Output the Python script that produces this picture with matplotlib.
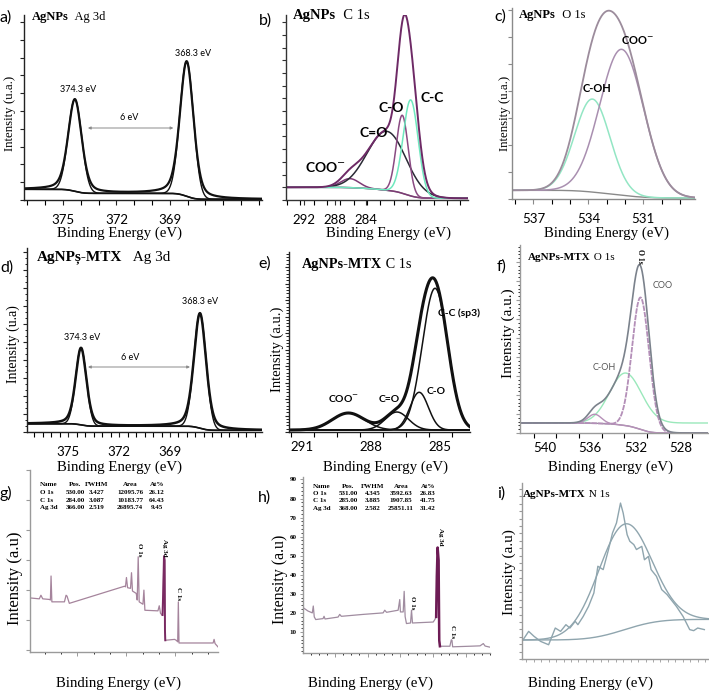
import numpy as np
import matplotlib
matplotlib.use('Agg')
import matplotlib.pyplot as plt
from matplotlib.ticker import MultipleLocator, FixedLocator, NullFormatter

W, H = 709, 693
SERIF = 'Liberation Serif'
SANS = 'Lato'

# ---------------- data ----------------
# a) AgNPs Ag 3d
a_centers = [374.33, 368.05]
a_heights = [92, 135]
a_fwhm = [0.9, 0.9]
a_bg = [10.7, 0.7]
a_ticks = [375, 372, 369]
a_labels = ['374.3 eV', '368.3 eV']

# b) AgNPs C 1s
b_names = ['COO$^{-}$', 'C=O', 'C-O', 'C-C']
b_centers = [286.06, 281.33, 279.32, 278.23]
b_heights = [9, 59, 78, 96]
b_fwhm = [2.8, 5.9, 1.8, 2.28]
b_bg = [12.7, 1.7]
b_ticks = [292, 288, 284]

# c) AgNPs O 1s
c_names = ['C-OH', 'COO$^{-}$']
c_centers = [533.78, 532.18]
c_heights = [93, 146]
c_fwhm = [2.27, 2.82]
c_bg = [8.7, 1.0]
c_ticks = [537, 534, 531]

# d) AgNPs-MTX Ag 3d
d_centers = [374.25, 367.23]
d_heights = [77, 115]
d_fwhm = [0.75, 0.85]
d_bg = [8.3, 1.7]
d_ticks = [375, 372, 369]
d_labels = ['374.3 eV', '368.3 eV']

# e) AgNPs-MTX C 1s
e_names = ['COO$^{-}$', 'C=O', 'C-O', 'C-C (sp3)']
e_centers = [288.99, 286.88, 285.91, 285.22]
e_heights = [17, 18, 37.7, 141.7]
e_fwhm = [1.65, 1.18, 0.94, 1.30]
e_bg = [2.0, 2.0]
e_ticks = [291, 288, 285]

# f) AgNPs-MTX O 1s
f_names = ['', 'C-OH', 'COO']
f_centers = [535.6, 532.9, 531.55]
f_heights = [9, 50, 132]
f_fwhm = [1.4, 3.3, 1.77]
f_bg = [10.0, 0.0]
f_ticks = [540, 536, 532, 528]

# g) AgNPs survey
g_energy = [1190, 1134, 1124, 1113, 1072, 1066, 1062, 1057, 980, 970, 964, 950,
            612, 606, 600, 593, 575, 569, 563, 540, 534, 528, 522, 499, 493, 487,
            407, 399, 391, 379, 375, 370, 366, 364, 362, 305, 295, 286, 282, 278,
            69, 63, 57, 39]
g_counts = [17.4, 17.1, 18.3, 17.1, 16.9, 16.7, 24.7, 16.1, 16.1, 18.3, 18.0, 15.6,
            21.3, 21.1, 24.2, 20.8, 20.6, 25.8, 19.7, 18.9, 16.7, 31.1, 16.1, 15.3, 20.0, 13.3,
            13.1, 14.8, 12.2, 11.7, 18.9, 31.3, 30.0, 6.7, 3.3, 3.6, 3.3, 2.8, 16.1, 2.4,
            2.4, 3.6, 2.2, 1.1]
g_table = [['Name', 'Pos.', 'FWHM', 'Area', 'At%'],
           ['O 1s', '530.00', '3.427', '12095.76', '26.12'],
           ['C 1s', '284.00', '3.087', '10183.77', '64.43'],
           ['Ag 3d', '366.00', '2.519', '26895.74', '9.45']]

# h) AgNPs-MTX survey
h_energy = [1196, 1166, 1139, 1133, 1127, 1118, 1073, 1067, 1061, 981, 971, 961,
            828, 705, 695, 684, 613, 603, 599, 582, 576, 570, 562, 537, 531, 525,
            398, 388, 380, 376, 371, 365, 361, 357, 296, 287, 283, 279, 173, 111, 91, 80, 50]
h_counts = [22.8, 21.0, 20.0, 23.6, 17.9, 16.5, 17.0, 18.2, 16.8, 17.8, 19.2, 18.2,
            19.2, 20.0, 21.4, 20.3, 21.4, 27.0, 20.5, 20.5, 31.3, 18.0, 14.4, 14.7, 21.4, 14.7,
            15.2, 16.5, 17.9, 39.0, 54.3, 47.6, 5.6, 2.5, 2.5, 5.9, 5.6, 2.2, 2.5, 2.7, 3.9, 2.6, 2.0]
h_yticks = [10, 20, 30, 40, 50, 60, 70, 80, 90]
h_table = [['Name', 'Pos.', 'FWHM', 'Area', 'At%'],
           ['O 1s', '531.00', '4.345', '3592.63', '26.83'],
           ['C 1s', '285.00', '3.885', '1907.85', '41.75'],
           ['Ag 3d', '368.00', '2.582', '25851.11', '31.42']]

# i) AgNPs-MTX N 1s
i_energy = [408.0, 407.5, 407.1, 406.6, 406.0, 405.5, 405.1, 404.7, 404.4, 404.0, 403.8,
            403.4, 403.0, 402.6, 402.3, 401.9, 401.5, 401.2, 400.9, 400.6, 400.4, 400.1,
            399.9, 399.6, 399.4, 399.0, 398.8, 398.5, 398.3, 397.9, 397.5, 397.1, 396.4,
            395.9, 395.4, 395.1, 394.8, 394.3]
i_counts = [10.0, 15.7, 12.9, 10.0, 8.1, 17.6, 15.7, 19.5, 17.6, 21.4, 19.5,
            24.2, 29.9, 37.5, 52.7, 50.8, 62.2, 71.6, 77.3, 88.6, 83.0, 70.6,
            66.9, 65.0, 62.2, 64.0, 56.4, 58.3, 50.8, 47.0, 39.4, 36.6, 29.9,
            24.2, 16.7, 16.1, 17.6, 16.7]
i_center, i_height, i_fwhm = 400.3, 60.0, 4.7
i_bg = [10.8, 22.5]


# ---------------- helpers ----------------
def pv(E, c, h, fwhm, eta=0.0):
    s = fwhm / 2.3548
    g = np.exp(-0.5 * ((E - c) / s) ** 2)
    lor = 1.0 / (1.0 + ((E - c) / (fwhm / 2.0)) ** 2)
    return h * ((1 - eta) * g + eta * lor)


def step_bg(E, peaks, hi, lo):
    idx = np.argsort(E)
    Es, ps = E[idx], peaks[idx]
    cum = np.concatenate([[0.0], np.cumsum(0.5 * (ps[1:] + ps[:-1]) * np.diff(Es))])
    frac = cum / cum[-1]
    out = np.empty_like(E)
    out[idx] = lo + (hi - lo) * frac
    return out


fig = plt.figure(figsize=(W / 100, H / 100), dpi=100)
fig.patch.set_facecolor('white')


def px_axes(l, t, r, b, spine='#222222'):
    ax = fig.add_axes([l / W, 1 - b / H, (r - l) / W, (b - t) / H])
    ax.set_facecolor('none')
    for s in ('top', 'right'):
        ax.spines[s].set_visible(False)
    for s in ('left', 'bottom'):
        ax.spines[s].set_color(spine)
        ax.spines[s].set_linewidth(1.0)
    ax.tick_params(colors=spine, labelcolor='black')
    return ax


def ftext(x, y, s, **kw):
    kw.setdefault('va', 'center')
    return fig.text(x / W, 1 - y / H, s, **kw)


def title(ax, x, y, bold, rest, size):
    t = ftext(x, y, bold, family=SERIF, weight='bold', fontsize=size, ha='left', va='bottom')
    ax.annotate(rest, xy=(1, 0), xycoords=t, va='bottom', ha='left',
                family=SERIF, fontsize=size, annotation_clip=False)


def std_xticks(ax, ticks, minor, labelsize=9.5, major_len=3.5):
    ax.xaxis.set_major_locator(FixedLocator(ticks))
    ax.xaxis.set_minor_locator(minor)
    ax.tick_params(axis='x', which='major', length=major_len, width=0.8, pad=6.5,
                   labelsize=labelsize)
    ax.tick_params(axis='x', which='minor', length=3.5, width=0.8)
    for lab in ax.get_xticklabels():
        lab.set_family(SANS)


def plain_y(ax, step, length=3.0, minor=None, minor_len=1.5):
    ax.yaxis.set_major_locator(MultipleLocator(step))
    ax.yaxis.set_major_formatter(NullFormatter())
    ax.tick_params(axis='y', which='major', length=length, width=0.8)
    if minor is not None:
        ax.yaxis.set_minor_locator(MultipleLocator(minor))
        ax.tick_params(axis='y', which='minor', length=minor_len, width=0.6)


XL = dict(family=SERIF, fontsize=10.7, ha='center')
YL = dict(family=SERIF, rotation=90, ha='center')
PL = dict(family=SANS, fontsize=11.5, ha='left')

# ---------------- a ----------------
ax = px_axes(24, 15, 262, 200)
E = np.linspace(377.19, 363.82, 1500)
comps = [pv(E, c, h, w, 0.0) for c, h, w in zip(a_centers, a_heights, a_fwhm)]
env = sum(pv(E, c, h, w, 0.35) for c, h, w in zip(a_centers, a_heights, a_fwhm))
bg = step_bg(E, sum(comps), a_bg[0], a_bg[1])
ax.plot(E, bg, color='#111', lw=1.2)
for cp in comps:
    ax.plot(E, bg + cp, color='#111', lw=1.0)
ax.plot(E, bg + env, color='#111', lw=1.6)
ax.set_xlim(377.19, 363.82)
ax.set_ylim(0, 185)
std_xticks(ax, a_ticks, MultipleLocator(1))
plain_y(ax, 17.8)
ax.text(374.16, 110, a_labels[0], family=SANS, fontsize=6.5, ha='center', va='center')
ax.text(367.7, 147, a_labels[1], family=SANS, fontsize=6.5, ha='center', va='center')
ax.text(371.3, 83, '6 eV', family=SANS, fontsize=6.5, ha='center', va='center')
ax.annotate('', xy=(368.8, 72), xytext=(373.6, 72),
            arrowprops=dict(arrowstyle='<|-|>', color='#8a8a8a', lw=0.7,
                            mutation_scale=4, shrinkA=0, shrinkB=0))
ftext(0, 18, 'a)', **PL)
title(ax, 32, 23, 'AgNPs', '  Ag 3d', 9)
ftext(10.5, 113, 'Intensity (u.a.)', fontsize=9.3, **YL)
ftext(120, 233, 'Binding Energy (eV)', **XL)

# ---------------- b ----------------
ax = px_axes(286, 15, 468, 200, spine='#333333')
E = np.linspace(294.32, 270.84, 1500)
comps = [pv(E, c, h, w) for c, h, w in zip(b_centers, b_heights, b_fwhm)]
bg = step_bg(E, sum(comps), b_bg[0], b_bg[1])
ax.plot(E, bg, color='#7a7a7a', lw=1.0)
b_cols = ['#7d3a75', '#2a2a35', '#8a4a82', '#6fe8bf']
for cp, col in zip(comps, b_cols):
    ax.plot(E, bg + cp, color=col, lw=1.1)
ax.plot(E, bg + sum(comps), color='#6e2a66', lw=1.4)
ax.set_xlim(294.32, 270.84)
ax.set_ylim(0, 185)
std_xticks(ax, b_ticks, FixedLocator(np.arange(294.2, 270.8, -1.72)))
plain_y(ax, 12.7)
BL = dict(family=SANS, fontsize=10, weight='bold', ha='center', va='center')
ax.text(289.2, 33, b_names[0], **BL)
ax.text(283.0, 67, b_names[1], **BL)
ax.text(280.8, 92, b_names[2], **BL)
ax.text(275.5, 102, b_names[3], **BL)
ftext(259, 21, 'b)', **PL)
title(ax, 293, 22, 'AgNPs', '  C 1s', 10.5)
ftext(388, 233, 'Binding Energy (eV)', **XL)

# ---------------- c ----------------
ax = px_axes(512, 8, 695, 199, spine='#8a8a8a')
E = np.linspace(538.17, 528.18, 1500)
comps = [pv(E, c, h, w) for c, h, w in zip(c_centers, c_heights, c_fwhm)]
bg = step_bg(E, sum(comps), c_bg[0], c_bg[1])
ax.plot(E, bg, color='#8a8a8a', lw=1.0)
ax.plot(E, bg + comps[0], color='#93e6c4', lw=1.1)
ax.plot(E, bg + comps[1], color='#a98fb0', lw=1.1)
ax.plot(E, bg + sum(comps), color='#9c8c9c', lw=1.3)
ax.set_xlim(538.17, 528.18)
ax.set_ylim(0, 191)
std_xticks(ax, c_ticks, MultipleLocator(1))
plain_y(ax, 27)
CL = dict(family=SANS, fontsize=8, weight='bold', ha='center', va='center')
ax.text(533.52, 111, c_names[0], **CL)
ax.text(531.34, 159, c_names[1], **CL)
ftext(494, 17, 'c)', **PL)
title(ax, 519, 21, 'AgNPs', '  O 1s', 9)
ftext(505, 113, 'Intensity (u.a.)', fontsize=9.3, **YL)
ftext(607, 233, 'Binding Energy (eV)', **XL)

# ---------------- d ----------------
ax = px_axes(27, 248, 262, 432)
E = np.linspace(377.44, 363.57, 1500)
comps = [pv(E, c, h, w, 0.0) for c, h, w in zip(d_centers, d_heights, d_fwhm)]
env = sum(pv(E, c, h, w, 0.35) for c, h, w in zip(d_centers, d_heights, d_fwhm))
bg = step_bg(E, sum(comps), d_bg[0], d_bg[1])
ax.plot(E, bg, color='#111', lw=1.2)
for cp in comps:
    ax.plot(E, bg + cp, color='#111', lw=1.0)
ax.plot(E, bg + env, color='#111', lw=1.8)
ax.set_xlim(377.44, 363.57)
ax.set_ylim(0, 184)
std_xticks(ax, d_ticks, MultipleLocator(0.5))
plain_y(ax, 18, minor=6)
ax.text(374.19, 94, d_labels[0], family=SANS, fontsize=6.5, ha='center', va='center')
ax.text(367.2, 130, d_labels[1], family=SANS, fontsize=6.5, ha='center', va='center')
ax.text(371.35, 75, '6 eV', family=SANS, fontsize=6.5, ha='center', va='center')
ax.annotate('', xy=(367.82, 65), xytext=(373.84, 65),
            arrowprops=dict(arrowstyle='<|-|>', color='#8a8a8a', lw=0.7,
                            mutation_scale=4, shrinkA=0, shrinkB=0))
ftext(0, 268, 'd)', **PL)
title(ax, 37, 264, 'AgNP\u0219-MTX', '   Ag 3d', 11)
ftext(13, 344, 'Intensity (u.a)', fontsize=10, **YL)
ftext(120, 467, 'Binding Energy (eV)', **XL)

# ---------------- e ----------------
ax = px_axes(289, 252, 470, 432)
E = np.linspace(291.57, 283.70, 1500)
comps = [pv(E, c, h, w) for c, h, w in zip(e_centers, e_heights, e_fwhm)]
bg = np.full_like(E, e_bg[0])
ax.plot(E, bg, color='#111', lw=1.0)
for cp in comps:
    ax.plot(E, bg + cp, color='#111', lw=1.1)
ax.plot(E, bg + sum(comps), color='#111', lw=2.2)
ax.set_xlim(291.57, 283.70)
ax.set_ylim(0, 180)
std_xticks(ax, e_ticks, FixedLocator(np.arange(291.5, 283.7, -1.0)), major_len=0)
plain_y(ax, 16.5, minor=3.3, minor_len=2)
EL = dict(family=SANS, fontsize=7.5, weight='bold', va='center')
ax.text(289.2, 33, e_names[0], ha='center', **EL)
ax.text(287.2, 32, e_names[1], ha='center', **EL)
ax.text(285.6, 40, e_names[2], ha='left', **EL)
ax.text(285.1, 119, e_names[3], ha='left', **EL)
ftext(258, 264, 'e)', **PL)
title(ax, 302, 271, 'AgNPs-MTX', ' C 1s', 10.3)
ftext(277, 349, 'Intensity (a.u.)', fontsize=10.5, **YL)
ftext(385, 467, 'Binding Energy (eV)', **XL)

# ---------------- f ----------------
ax = px_axes(520, 245, 708, 433, spine='#9a9a9a')
E = np.linspace(542.2, 525.6, 1500)
comps = [pv(E, c, h, w) for c, h, w in zip(f_centers, f_heights, f_fwhm)]
bg = step_bg(E, sum(comps), f_bg[0], f_bg[1])
ax.plot(E, bg, color='#9a90a2', lw=1.0)
ax.plot(E, f_bg[0] + comps[1], color='#9ae8bb', lw=1.0)
ax.plot(E, bg + comps[0], color='#b690b8', lw=1.0)
ax.plot(E, bg + comps[2], color='#b48fb8', lw=1.3, ls=(0, (3, 0.6)))
ax.plot(E, bg + sum(comps), color='#7b828c', lw=1.2)
ax.set_xlim(542.2, 525.6)
ax.set_ylim(0, 188)
std_xticks(ax, f_ticks, FixedLocator(np.arange(541, 525, -2.0)), major_len=0)
plain_y(ax, 19, minor=3.8)
FL = dict(family=SANS, fontsize=6.5, color='#555', ha='center', va='center')
ax.text(534.8, 66, f_names[1], **FL)
ax.text(529.6, 148, f_names[2], **FL)
ftext(640, 256, 'O 1s', family=SERIF, weight='bold', fontsize=5.5, rotation=270, ha='center')
ftext(497, 267, 'f)', **PL)
title(ax, 528, 262, 'AgNPs-MTX', ' O 1s', 8)
ftext(508, 333, 'Intensity (a.u.)', fontsize=11, **YL)
ftext(611, 467, 'Binding Energy (eV)', **XL)

# ---------------- g ----------------
ax = px_axes(30, 470, 218, 652, spine='#9a9a9a')
ge = np.array(g_energy, float)
gc = np.array(g_counts, float)
ax.plot(ge, gc, color='#a5849c', lw=0.9)
ag = (ge <= 380) & (ge >= 362)
ax.plot(ge[ag], gc[ag], color='#7a2a62', lw=1.4)
ax.set_xlim(1191, 39)
ax.set_ylim(-0.6, 60)
ax.xaxis.set_major_locator(MultipleLocator(300))
ax.xaxis.set_minor_locator(MultipleLocator(100))
ax.xaxis.set_major_formatter(NullFormatter())
ax.tick_params(axis='x', which='major', length=3, width=0.7)
ax.tick_params(axis='x', which='minor', length=1.5, width=0.6)
plain_y(ax, 10)
TB = dict(family=SERIF, weight='bold', fontsize=5, va='center')
cols_g = [40, 75, 97, 130, 157]
for r, row in enumerate(g_table):
    for cidx, cell in enumerate(row):
        ftext(cols_g[cidx], 485 + 7.5 * r, cell, ha='left' if cidx == 0 else 'center', **TB)
ftext(139.5, 550, 'O 1s', family=SERIF, weight='bold', fontsize=5, rotation=270, ha='center')
ftext(165, 548, 'Ag 3d', family=SERIF, weight='bold', fontsize=5, rotation=270, ha='center')
ftext(178.7, 594, 'C 1s', family=SERIF, weight='bold', fontsize=5, rotation=270, ha='center')
ftext(0, 493, 'g)', **PL)
ftext(15, 578, 'Intensity (a.u)', fontsize=12, **YL)
ftext(119, 683, 'Binding Energy (eV)', **XL)

# ---------------- h ----------------
ax = px_axes(303, 477, 490, 653, spine='#9a9a9a')
he = np.array(h_energy, float)
hc = np.array(h_counts, float)
ax.plot(he, hc, color='#a08ca0', lw=0.9)
ag = (he <= 380) & (he >= 357)
ax.plot(he[ag], hc[ag], color='#6d1c55', lw=1.8)
ax.set_xlim(1196, 50)
ax.set_ylim(-1.05, 91.3)
ax.xaxis.set_major_locator(MultipleLocator(200))
ax.xaxis.set_minor_locator(MultipleLocator(50))
ax.xaxis.set_major_formatter(NullFormatter())
ax.tick_params(axis='x', which='major', length=3, width=0.7)
ax.tick_params(axis='x', which='minor', length=1.5, width=0.6)
ax.yaxis.set_major_locator(FixedLocator(h_yticks))
ax.yaxis.set_minor_locator(MultipleLocator(2))
ax.tick_params(axis='y', which='major', length=2.5, width=0.7, pad=2, labelsize=5)
ax.tick_params(axis='y', which='minor', length=1.2, width=0.5)
for lab in ax.get_yticklabels():
    lab.set_family(SERIF)
    lab.set_weight('bold')
cols_h = [313, 348, 373, 401, 428]
for r, row in enumerate(h_table):
    for cidx, cell in enumerate(row):
        ftext(cols_h[cidx], 486 + 7.5 * r, cell, ha='left' if cidx == 0 else 'center', **TB)
ftext(412.7, 603, 'O 1s', family=SERIF, weight='bold', fontsize=5, rotation=270, ha='center')
ftext(440, 537, 'Ag 3d', family=SERIF, weight='bold', fontsize=5, rotation=270, ha='center')
ftext(452.7, 632, 'C 1s', family=SERIF, weight='bold', fontsize=5, rotation=270, ha='center')
ftext(258, 498, 'h)', **PL)
ftext(280, 579, 'Intensity (a.u)', fontsize=11.5, **YL)
ftext(370, 683, 'Binding Energy (eV)', **XL)

# ---------------- i ----------------
ax = px_axes(522, 483, 709, 659, spine='#9a9a9a')
E = np.linspace(408.0, 393.95, 800)
pk = pv(E, i_center, i_height, i_fwhm)
bg = step_bg(E, pk, i_bg[0], i_bg[1])
ax.plot(E, bg, color='#8fa5ae', lw=1.0)
ax.plot(E, bg + pk, color='#8fa5ae', lw=1.0)
ax.plot(i_energy, i_counts, color='#8fa5ae', lw=1.0)
ax.set_xlim(408.0, 393.95)
ax.set_ylim(0, 100)
ax.xaxis.set_major_locator(MultipleLocator(0.56))
ax.xaxis.set_major_formatter(NullFormatter())
ax.tick_params(axis='x', which='major', length=2, width=0.6)
plain_y(ax, 4.2, length=2)
ftext(497, 494, 'i)', **PL)
title(ax, 523, 499, 'AgNPs-MTX', ' N 1s', 8)
ftext(509, 572, 'Intensity (a.u)', fontsize=11, **YL)
ftext(591, 683, 'Binding Energy (eV)', **XL)

fig.savefig('out.png', dpi=100, facecolor='white')
